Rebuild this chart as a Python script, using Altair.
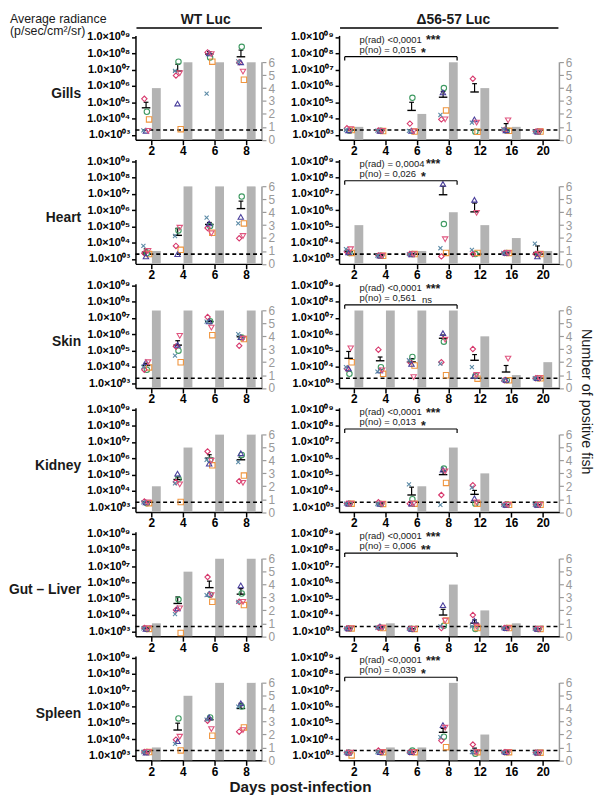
import altair as alt
import pandas as pd

# ---------------- data (log10 of average radiance; fish order: o, s, d, u, v, x) ----------------
ORGANS = ["Gills", "Heart", "Skin", "Kidney", "Gut – Liver", "Spleen"]
WT_DAYS = ["2", "4", "6", "8"]
MUT_DAYS = ["2", "4", "6", "8", "12", "16", "20"]
FISH = ["o", "s", "d", "u", "v", "x"]

WT_GILLS = [[4.42, 3.95, 5.21, 3.25, 3.25, 3.28], [7.49, 3.35, 6.64, 4.92, 6.78, 6.92],
            [7.75, 7.49, 8.06, 8.00, 7.95, 5.53], [8.40, 6.38, 7.45, 7.45, 6.88, 7.50]]
WT_HEART = [[3.35, 3.30, 3.35, 3.16, 3.50, 3.80], [4.74, 3.56, 3.80, 3.30, 4.92, 4.41],
            [5.02, 4.61, 4.90, 5.18, 4.57, 5.54], [6.83, 5.18, 4.27, 5.58, 4.41, 5.18]]
WT_SKIN = [[3.82, 3.96, 3.82, 4.28, 4.28, 4.00], [4.99, 4.28, 5.25, 5.35, 5.90, 4.69],
           [6.80, 5.94, 7.05, 6.78, 6.40, 6.77], [5.80, 5.70, 5.29, 5.82, 5.72, 6.00]]
WT_KIDNEY = [[3.25, 3.25, 3.35, 3.30, 3.30, 3.30], [4.74, 3.32, 4.55, 5.06, 4.40, 4.46],
             [5.91, 5.57, 6.42, 5.67, 5.85, 5.91], [6.21, 4.94, 4.60, 6.31, 4.50, 5.77]]
WT_GUT = [[3.15, 3.15, 3.20, 3.15, 3.20, 3.18], [4.95, 2.90, 4.31, 4.41, 4.41, 4.06],
          [5.25, 4.81, 6.33, 5.30, 5.22, 5.22], [5.32, 4.61, 4.81, 5.82, 4.81, 4.81]]
WT_SPLEEN = [[3.21, 3.21, 3.21, 3.18, 3.22, 3.21], [5.27, 3.31, 3.97, 3.88, 4.15, 3.71],
             [5.33, 4.21, 5.13, 5.33, 4.62, 5.20], [6.00, 4.72, 4.46, 6.20, 4.56, 6.00]]

WT_MEAN = [[4.66, 6.92, 7.96, 7.79], [3.42, 4.45, 5.12, 6.09], [4.08, 5.33, 6.77, 5.84],
           [3.32, 4.70, 6.01, 5.91], [3.18, 4.71, 5.68, 5.28], [3.22, 4.56, 5.19, 5.88]]
WT_SEMTOP = [[5.00, 7.33, 8.10, 8.20], [3.62, 4.88, 5.24, 6.55], [4.22, 5.60, 6.85, 5.90],
             [3.36, 4.86, 6.22, 6.05], [3.22, 5.11, 6.08, 5.62], [3.26, 4.98, 5.30, 6.20]]
WT_POSITIVE = [[4, 6, 6, 6], [1, 6, 6, 6], [6, 6, 6, 6], [2, 5, 6, 6], [1, 5, 6, 6], [1, 5, 6, 6]]

MUT_GILLS = [[3.25, 3.30, 3.40, 3.28, 3.35, 3.30], [3.25, 3.23, 3.27, 3.25, 3.25, 3.26],
             [5.27, 3.20, 3.69, 3.25, 3.22, 3.25], [5.87, 4.50, 3.95, 5.60, 3.95, 4.22],
             [3.19, 3.19, 6.44, 3.95, 3.75, 3.75], [3.25, 3.25, 3.30, 3.28, 3.89, 3.35],
             [3.20, 3.20, 3.20, 3.20, 3.22, 3.20]]
MUT_HEART = [[3.37, 3.37, 3.45, 3.40, 3.60, 3.60], [3.20, 3.20, 3.22, 3.20, 3.20, 3.20],
             [3.30, 3.30, 3.30, 3.28, 3.30, 3.30], [5.14, 3.37, 3.16, 7.60, 4.21, 3.66],
             [3.30, 3.37, 3.30, 6.63, 5.83, 3.56], [3.37, 3.37, 3.37, 3.37, 3.37, 3.37],
             [3.30, 3.30, 3.30, 3.16, 3.30, 3.94]]
MUT_SKIN = [[3.57, 4.28, 3.88, 3.90, 5.13, 3.98], [3.98, 3.57, 5.05, 3.78, 3.78, 3.70],
            [4.60, 4.08, 4.30, 4.18, 3.37, 4.40], [5.54, 3.48, 4.28, 6.06, 5.66, 4.20],
            [3.43, 3.27, 5.09, 3.45, 3.50, 3.98], [3.17, 3.17, 3.17, 3.20, 4.50, 3.20],
            [3.30, 3.30, 3.30, 3.30, 3.30, 3.30]]
MUT_KIDNEY = [[3.22, 3.22, 3.22, 3.22, 3.22, 3.22], [3.20, 3.20, 3.30, 3.20, 3.20, 3.20],
              [3.49, 3.22, 3.22, 3.22, 3.22, 4.40], [5.37, 4.49, 3.75, 5.30, 5.20, 3.14],
              [3.22, 3.22, 4.35, 3.55, 3.30, 4.20], [3.15, 3.15, 3.15, 3.15, 3.15, 3.15],
              [3.15, 3.15, 3.15, 3.15, 3.15, 3.15]]
MUT_GUT = [[3.18, 3.18, 3.18, 3.18, 3.18, 3.18], [3.22, 3.20, 3.22, 3.30, 3.22, 3.22],
           [3.15, 3.15, 3.15, 3.15, 3.15, 3.15], [3.34, 3.66, 3.20, 4.61, 3.66, 3.30],
           [3.15, 3.20, 4.00, 3.66, 3.30, 3.30], [3.20, 3.20, 3.20, 3.20, 3.20, 3.20],
           [3.15, 3.15, 3.15, 3.15, 3.15, 3.15]]
MUT_SPLEEN = [[3.17, 3.00, 3.17, 3.17, 3.17, 3.17], [3.20, 3.20, 3.30, 3.20, 3.20, 3.20],
              [3.30, 3.20, 3.20, 3.20, 3.20, 3.20], [4.15, 3.51, 3.91, 4.86, 4.70, 4.12],
              [3.10, 3.20, 3.67, 3.25, 3.20, 3.20], [3.20, 3.20, 3.20, 3.20, 3.20, 3.20],
              [3.17, 3.17, 3.17, 3.17, 3.17, 3.17]]

MUT_MEAN = [[3.30, 3.25, 4.50, 5.31, 5.63, 3.39, 3.20], [3.45, 3.20, 3.30, 6.94, 5.89, 3.37, 3.40],
            [4.52, 4.37, 4.30, 5.75, 4.40, 3.68, 3.30], [3.22, 3.20, 3.75, 5.00, 3.79, 3.15, 3.15],
            [3.18, 3.22, 3.15, 4.00, 3.50, 3.20, 3.15], [3.17, 3.20, 3.20, 4.42, 3.27, 3.20, 3.17]]
MUT_SEMTOP = [[3.35, 3.27, 5.00, 5.67, 6.14, 3.69, 3.22], [3.50, 3.22, 3.33, 7.46, 6.43, 3.42, 3.80],
              [4.94, 4.60, 4.50, 5.95, 4.75, 4.08, 3.33], [3.25, 3.22, 4.23, 5.20, 4.03, 3.17, 3.17],
              [3.20, 3.25, 3.17, 4.35, 3.70, 3.22, 3.17], [3.20, 3.23, 3.23, 4.66, 3.45, 3.22, 3.19]]
MUT_POSITIVE = [[1, 0, 2, 6, 4, 1, 0], [3, 0, 1, 4, 3, 2, 1], [6, 6, 6, 6, 4, 1, 2],
                [0, 0, 2, 5, 3, 0, 0], [0, 1, 0, 4, 2, 1, 0], [0, 1, 1, 6, 2, 0, 0]]

P_RAD = ["p(rad) <0,0001", "p(rad) = 0,0004", "p(rad) <0,0001", "p(rad) <0,0001",
         "p(rad) <0,0001", "p(rad) <0,0001"]
P_NO = ["p(no) = 0,015", "p(no) = 0,026", "p(no) = 0,561", "p(no) = 0,013",
        "p(no) = 0,006", "p(no) = 0,039"]
STAR_RAD = ["***", "***", "***", "***", "***", "***"]
STAR_NO = ["*", "*", "ns", "*", "**", "*"]
THRESHOLD_LOG = 3.3

WT_RAD = [WT_GILLS, WT_HEART, WT_SKIN, WT_KIDNEY, WT_GUT, WT_SPLEEN]
MUT_RAD = [MUT_GILLS, MUT_HEART, MUT_SKIN, MUT_KIDNEY, MUT_GUT, MUT_SPLEEN]

# ---------------- style ----------------
FONT = "Liberation Sans"
SHAPES = ["circle", "square", "diamond", "triangle-up", "triangle-down",
          "M-0.75,-0.75L0.75,0.75M-0.75,0.75L0.75,-0.75"]
COLORS = ["#3f9a62", "#f0953e", "#d7386c", "#4a3f9c", "#e0557f", "#5b8aa6"]
OFF = {"o": -0.14, "s": -0.07, "d": -0.22, "u": -0.17, "v": -0.10, "x": -0.25}
BAR = "#b3b3b3"
GREY = "#999999"
H = 105.6
W_WT, W_MUT = 128, 223
YDOM = [10 ** 2.7, 10 ** 9.1]
RDOM = [0, 8.08]
SUP = "['⁰³','⁰⁴','⁰⁵','⁰⁶','⁰⁷','⁰⁸','⁰⁹']"
YLAB = "'1.0×10' + " + SUP + "[round(log(datum.value)/LN10) - 3]"

ONE = alt.Data(values=[{"a": 1}])


def txt(text, x, y, size=9.6, weight="normal", align="left", baseline="middle",
        angle=0, color="#1a1a1a"):
    return alt.Chart(ONE).mark_text(
        text=text, fontSize=size, fontWeight=weight, align=align, baseline=baseline,
        angle=angle, color=color, font=FONT
    ).encode(x=alt.value(x), y=alt.value(y))


def panel(r, wt):
    days = WT_DAYS if wt else MUT_DAYS
    n = len(days)
    width = W_WT if wt else W_MUT
    xdom = [-0.5, n - 0.5] if wt else [-0.47, n - 0.47]
    rad = (WT_RAD if wt else MUT_RAD)[r]
    means = (WT_MEAN if wt else MUT_MEAN)[r]
    tops = (WT_SEMTOP if wt else MUT_SEMTOP)[r]
    pos = (WT_POSITIVE if wt else MUT_POSITIVE)[r]

    pts = pd.DataFrame([{"x": i + OFF[f], "val": 10 ** v, "fish": f}
                        for i, row in enumerate(rad) for f, v in zip(FISH, row)])
    st = pd.DataFrame([{"m1": i - 0.30, "m2": i - 0.03, "c": i - 0.165, "c1": i - 0.24,
                        "c2": i - 0.09, "mean": 10 ** m, "top": 10 ** t}
                       for i, (m, t) in enumerate(zip(means, tops))])
    bars = pd.DataFrame([{"b1": i + 0.02, "b2": i + 0.30, "n": c}
                         for i, c in enumerate(pos) if c > 0])

    xs = alt.Scale(domain=xdom, nice=False, zero=False)
    labexpr = "[" + ",".join("'%s'" % d for d in days) + "][round(datum.value)]"
    xax = alt.Axis(values=list(range(n)), labelExpr=labexpr, title=None, grid=False,
                   tickSize=5, tickWidth=1.5, domainWidth=1.5, domainColor="#000",
                   tickColor="#000", labelFontSize=12, labelFontWeight="bold",
                   labelColor="#000", labelPadding=1, labelFont=FONT)
    ys = alt.Scale(type="log", domain=YDOM, nice=False)
    yax = alt.Axis(values=[10 ** k for k in range(3, 10)], labelExpr=YLAB, title=None,
                   grid=False, tickSize=4, tickWidth=1.5, domainWidth=1.5,
                   domainColor="#000", tickColor="#000", labelFontSize=11,
                   labelFontWeight="bold", labelColor="#000", labelPadding=2,
                   labelFont=FONT, orient="left")
    rs = alt.Scale(domain=RDOM, nice=False, zero=True)
    rax = alt.Axis(values=[0, 1, 2, 3, 4, 5, 6], title=None, grid=False, domain=False,
                   tickSize=4, tickWidth=1.2, tickColor=GREY, labelColor=GREY,
                   labelFontSize=12, labelPadding=2, labelFont=FONT, orient="right")

    X = lambda f: alt.X(f, scale=xs, axis=xax)
    Y = lambda f: alt.Y(f, scale=ys, axis=yax)

    bar_l = alt.Chart(bars).mark_rect(color=BAR).encode(
        x=X("b1:Q"), x2="b2:Q",
        y=alt.Y("n:Q", scale=rs, axis=rax), y2=alt.Y2Datum(0))
    raxis = alt.Chart(ONE).mark_rule(color=GREY, strokeWidth=1.5).encode(
        x=alt.value(width), y=alt.YDatum(0, scale=rs, axis=rax), y2=alt.Y2Datum(6))
    right = alt.layer(bar_l, raxis)

    thr = alt.Chart(ONE).mark_rule(color="#000", strokeWidth=1.6, strokeDash=[4, 3]).encode(
        x=alt.XDatum(xdom[0], scale=xs, axis=xax), x2=alt.X2Datum(xdom[1]),
        y=alt.YDatum(10 ** THRESHOLD_LOG, scale=ys, axis=yax))
    mean_l = alt.Chart(st).mark_rule(color="#000", strokeWidth=1.4).encode(
        x=X("m1:Q"), x2="m2:Q", y=Y("mean:Q"))
    sem_l = alt.Chart(st).mark_rule(color="#000", strokeWidth=1.2).encode(
        x=X("c:Q"), y=Y("mean:Q"), y2="top:Q")
    cap_l = alt.Chart(st).mark_rule(color="#000", strokeWidth=1.2).encode(
        x=X("c1:Q"), x2="c2:Q", y=Y("top:Q"))
    pt_l = alt.Chart(pts).mark_point(filled=False, size=30, strokeWidth=1.1, opacity=1).encode(
        x=X("x:Q"), y=Y("val:Q"),
        shape=alt.Shape("fish:N", scale=alt.Scale(domain=FISH, range=SHAPES), legend=None),
        color=alt.Color("fish:N", scale=alt.Scale(domain=FISH, range=COLORS), legend=None))
    left_layers = [thr, mean_l, sem_l, cap_l, pt_l]

    extra = []
    if wt:
        extra.append(txt(ORGANS[r], -55, 59, size=14, weight="bold", align="right"))
        if r == 0:
            extra.append(txt("WT Luc", 71, -16, size=14, weight="bold", align="center"))
            extra.append(alt.Chart(ONE).mark_rule(color="#000", strokeWidth=1.5).encode(
                x=alt.value(1), x2=alt.value(width), y=alt.value(-7.4)))
            extra.append(txt("Average radiance", -127, -23, size=12.5, baseline="top"))
            extra.append(txt("(p/sec/cm²/sr)", -127, -10, size=12.5, baseline="top"))
        if r == 5:
            extra.append(txt("Days post-infection", 167, 133, size=15.5, weight="bold",
                             align="center"))
    else:
        extra.append(txt(P_RAD[r], 20.7, 4.5))
        extra.append(txt(P_NO[r], 20.7, 14.5))
        extra.append(txt(STAR_RAD[r], 88, 5, size=12.5, weight="bold"))
        ns = STAR_NO[r] == "ns"
        extra.append(txt(STAR_NO[r], 84 if ns else 83, 17 if ns else 18,
                         size=9.6 if ns else 12.5, weight="normal" if ns else "bold"))
        extra.append(alt.Chart(ONE).mark_rule(color="#000", strokeWidth=1.2).encode(
            x=alt.XDatum(-0.29, scale=xs, axis=xax), x2=alt.X2Datum(3.28),
            y=alt.value(21.5)))
        for xe in (-0.29, 3.28):
            extra.append(alt.Chart(ONE).mark_rule(color="#000", strokeWidth=1.2).encode(
                x=alt.XDatum(xe, scale=xs, axis=xax), y=alt.value(21.5), y2=alt.value(25.5)))
        if r == 0:
            extra.append(txt("Δ56-57 Luc", 115.7, -16, size=14, weight="bold", align="center"))
            extra.append(alt.Chart(ONE).mark_rule(color="#000", strokeWidth=1.5).encode(
                x=alt.value(1), x2=alt.value(width - 1), y=alt.value(-7.4)))
        if r == 2:
            extra.append(txt("Number of positive fish", 250, 119.5, size=14.5,
                             align="center", angle=90))
    left = alt.layer(*left_layers, *extra)
    return alt.layer(right, left).resolve_scale(y="independent").properties(
        width=width, height=H)


panels = []
for r in range(6):
    panels.append(panel(r, True))
    panels.append(panel(r, False))

chart = alt.ConcatChart(
    concat=panels, columns=2, spacing={"row": 19.6, "column": 78},
    bounds="flush", align="each"
).properties(padding=0, background="white").configure_view(stroke=None)

chart.save("out.html", embed_options={"renderer": "svg", "actions": False})
